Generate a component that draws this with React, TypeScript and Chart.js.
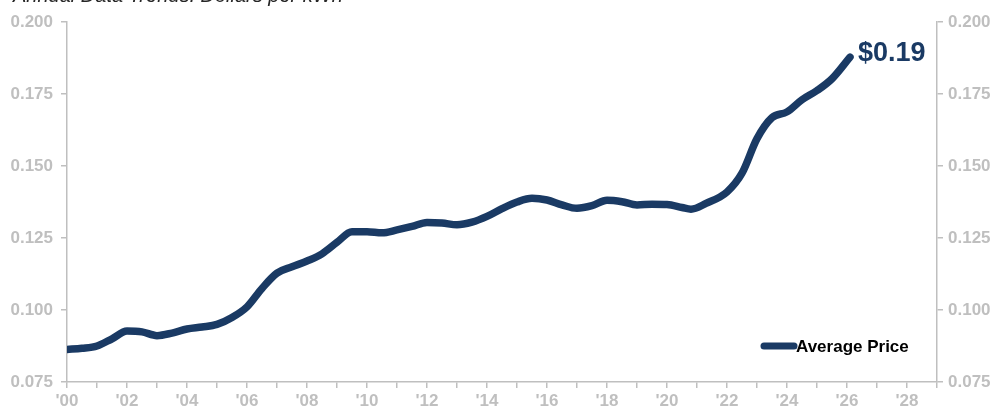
import React, { useEffect, useRef } from "react";
import { Chart, registerables } from "chart.js";

Chart.register(...registerables);

const years: number[] = [
  2000.0, 2000.5, 2001.0, 2001.5, 2002.0, 2002.5, 2003.0, 2003.5, 2004.0, 2004.5,
  2005.0, 2005.5, 2006.0, 2006.5, 2007.0, 2007.5, 2008.0, 2008.5, 2009.0, 2009.5,
  2010.0, 2010.5, 2011.0, 2011.5, 2012.0, 2012.5, 2013.0, 2013.5, 2014.0, 2014.5,
  2015.0, 2015.5, 2016.0, 2016.5, 2017.0, 2017.5, 2018.0, 2018.5, 2019.0, 2019.5,
  2020.0, 2020.5, 2020.8, 2021.3, 2022.0, 2022.5, 2023.0, 2023.5, 2024.0, 2024.5,
  2025.0, 2025.5, 2026.1,
];

const prices: number[] = [
  0.0863, 0.0867, 0.0875, 0.0900, 0.0927, 0.0924, 0.0911, 0.0920, 0.0934, 0.0941,
  0.0950, 0.0974, 0.1011, 0.1075, 0.1128, 0.1150, 0.1170, 0.1195, 0.1235, 0.1272,
  0.1272, 0.1268, 0.1278, 0.1290, 0.1304, 0.1302, 0.1296, 0.1305, 0.1325, 0.1352,
  0.1375, 0.1388, 0.1382, 0.1365, 0.1353, 0.1362, 0.1381, 0.1376, 0.1365, 0.1367,
  0.1366, 0.1356, 0.1350, 0.1370, 0.1410, 0.1475, 0.1595, 0.1668, 0.1688, 0.1730,
  0.1762, 0.1803, 0.1878,
];

const xTickLabels: string[] = [
  "'00", "'02", "'04", "'06", "'08", "'10", "'12", "'14",
  "'16", "'18", "'20", "'22", "'24", "'26", "'28",
];
const xTickYears: number[] = [
  2000, 2002, 2004, 2006, 2008, 2010, 2012, 2014,
  2016, 2018, 2020, 2022, 2024, 2026, 2028,
];

const yTickLabels: string[] = ["0.075", "0.100", "0.125", "0.150", "0.175", "0.200"];
const yTickValues: number[] = [0.075, 0.1, 0.125, 0.15, 0.175, 0.2];

const titleText = "Annual Data Trends: Dollars per kWh";
const seriesName = "Average Price";
const endLabel = "$0.19";

const NAVY = "#1a3a64";
const AXIS = "#bfbfbf";
const FONT = "'Liberation Sans', Arial, Helvetica, sans-serif";

function yLabel(v: number): string {
  for (let i = 0; i < yTickValues.length; i++) {
    if (Math.abs(yTickValues[i] - v) < 1e-6) return yTickLabels[i];
  }
  return "";
}

function xLabel(v: number): string {
  for (let i = 0; i < xTickYears.length; i++) {
    if (Math.abs(xTickYears[i] - v) < 1e-6) return xTickLabels[i];
  }
  return "";
}

const overlayPlugin = {
  id: "overlay",
  afterDraw(chart: any) {
    const ctx = chart.ctx as CanvasRenderingContext2D;
    const area = chart.chartArea;
    ctx.save();
    // Title (clipped at top, as in the reference)
    ctx.font = `italic 20px ${FONT}`;
    ctx.fillStyle = "#262626";
    ctx.textBaseline = "alphabetic";
    ctx.textAlign = "left";
    ctx.fillText(titleText, 13, 2);

    // End label
    const meta = chart.getDatasetMeta(0);
    const last = meta.data[meta.data.length - 1];
    if (last) {
      ctx.font = `bold 27px ${FONT}`;
      ctx.fillStyle = NAVY;
      ctx.textBaseline = "middle";
      ctx.fillText(endLabel, last.x + 8, last.y - 4);
    }

    // Legend
    const ly = area.bottom - 36;
    const lx = area.right - 173;
    ctx.strokeStyle = NAVY;
    ctx.lineWidth = 7;
    ctx.lineCap = "round";
    ctx.beginPath();
    ctx.moveTo(lx, ly);
    ctx.lineTo(lx + 30, ly);
    ctx.stroke();
    ctx.font = `bold 17px ${FONT}`;
    ctx.fillStyle = "#000000";
    ctx.textBaseline = "middle";
    ctx.fillText(seriesName, lx + 32, ly + 1);
    ctx.restore();
  },
};

export default function App() {
  const ref = useRef<HTMLCanvasElement | null>(null);

  useEffect(() => {
    if (!ref.current) return;
    const axisCommon = {
      grid: {
        drawOnChartArea: false,
        drawTicks: true,
        tickLength: 6,
        color: AXIS,
        lineWidth: 1.5,
      },
      border: { display: true, color: AXIS, width: 1.5 },
    };
    const yTicks = {
      stepSize: 0.025,
      color: AXIS,
      font: { family: FONT, size: 17, weight: "bold" as const },
      callback: (v: any) => yLabel(Number(v)),
    };
    const chart = new Chart(ref.current, {
      type: "line",
      data: {
        datasets: [
          {
            label: seriesName,
            data: years.map((x, i) => ({ x, y: prices[i] })),
            borderColor: NAVY,
            backgroundColor: NAVY,
            borderWidth: 7.5,
            pointRadius: 0,
            tension: 0.4,
            cubicInterpolationMode: "monotone",
            borderCapStyle: "round",
            borderJoinStyle: "round",
            yAxisID: "y",
          },
        ],
      },
      options: {
        animation: false,
        responsive: false,
        layout: { padding: { top: 22, left: 0, right: 0, bottom: 0 } },
        plugins: {
          legend: { display: false },
          tooltip: { enabled: false },
        },
        scales: {
          x: {
            type: "linear",
            position: "bottom",
            min: 2000,
            max: 2029,
            ...axisCommon,
            ticks: {
              stepSize: 1,
              autoSkip: false,
              maxRotation: 0,
              padding: 3,
              color: AXIS,
              font: { family: FONT, size: 17, weight: "bold" },
              callback: (v: any) => xLabel(Number(v)),
            },
            afterFit: (s: any) => {
              s.height = 27;
            },
          },
          y: {
            type: "linear",
            position: "left",
            min: 0.075,
            max: 0.2,
            ...axisCommon,
            ticks: { ...yTicks, padding: 8 },
            afterFit: (s: any) => {
              s.width = 67;
            },
          },
          y1: {
            type: "linear",
            position: "right",
            min: 0.075,
            max: 0.2,
            ...axisCommon,
            ticks: { ...yTicks, padding: 5 },
            afterFit: (s: any) => {
              s.width = 58;
            },
          },
        },
      } as any,
      plugins: [overlayPlugin],
    });
    return () => chart.destroy();
  }, []);

  return (
    <div style={{ position: "absolute", left: 0, top: 0, width: 995, height: 409, background: "#fff" }}>
      <canvas ref={ref} width={995} height={409} style={{ width: 995, height: 409, display: "block" }} />
    </div>
  );
}
